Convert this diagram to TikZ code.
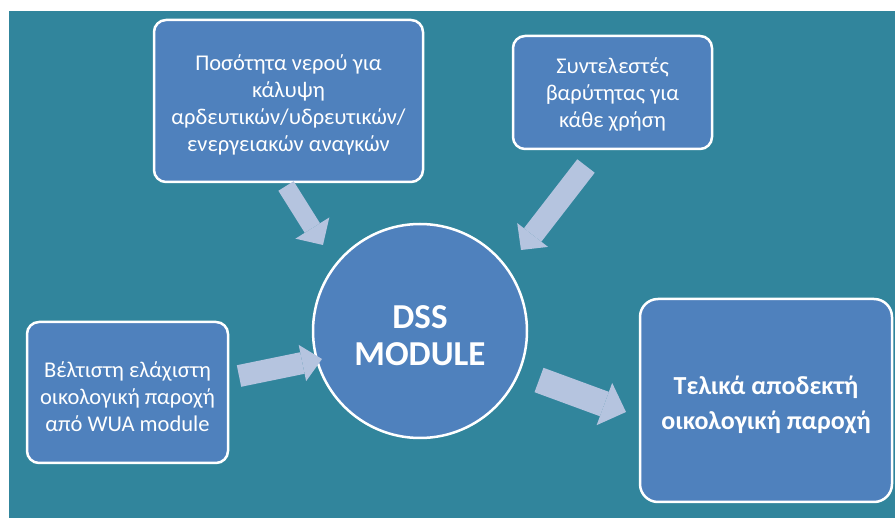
\documentclass[tikz,border=0pt]{standalone}
\usepackage{fontspec}
\setmainfont{Carlito}
\usetikzlibrary{arrows.meta}
\definecolor{bgteal}{RGB}{49,133,156}
\definecolor{boxblue}{RGB}{79,129,189}
\definecolor{arrowblue}{RGB}{181,196,223}
\begin{document}
\begin{tikzpicture}[x=1pt,y=-1pt,
  box/.style={draw=white,line width=2.5pt,fill=boxblue,rounded corners=12pt,inner sep=0pt},
  boxtext/.style={text=white,align=center,inner sep=0pt,font=\fontsize{22.5}{27}\selectfont},
  bigtext/.style={text=white,align=center,inner sep=0pt,font=\bfseries\fontsize{#1}{35}\selectfont},
  blockarrow/.style n args={3}{draw=arrowblue,line width=#1,
    -{Triangle[width=#2,length=#3,line width=0pt]}},
]
\useasboundingbox (0,0) rectangle (895,518);
\fill[white] (0,0) rectangle (895,518);
\fill[bgteal] (9,11) rectangle (895,518);

\node[box,minimum width=269pt,minimum height=162pt] (water) at (288.5,101) {};
\node[boxtext] (waterT) at ([yshift=-4pt]water.center)
  {Ποσότητα νερού για\\κάλυψη\\αρδευτικών/υδρευτικών/\\ενεργειακών αναγκών};
\node[box,minimum width=199pt,minimum height=113pt] (weights) at (612.5,92.5) {};
\node[boxtext] (weightsT) at ([yshift=-2pt]weights.center)
  {Συντελεστές\\βαρύτητας για\\κάθε χρήση};
\node[box,minimum width=201pt,minimum height=141pt] (optimal) at (127.5,392.5) {};
\node[boxtext] (optimalT) at ([yshift=-4pt]optimal.center)
  {Βέλτιστη ελάχιστη\\οικολογική παροχή\\από WUA module};
\node[box,rounded corners=18pt,minimum width=252pt,minimum height=203pt] (final) at (766,400.5) {};
\node[bigtext=26] (finalT) at ([yshift=-4pt]final.center)
  {Τελικά αποδεκτή\\οικολογική παροχή};
\node[circle,draw=white,line width=2.5pt,fill=boxblue,minimum size=214pt,
  inner sep=0pt] (dss) at (420,331) {};
\node[text=white,align=center,inner sep=0pt,
  font=\bfseries\fontsize{35}{37}\selectfont] (dssT) at ([yshift=-5pt]dss.center) {DSS\\MODULE};

\coordinate (a1s) at (286,186); \coordinate (a1e) at (323,245);
\coordinate (a2s) at (586,166); \coordinate (a2e) at (521,250);
\coordinate (a3s) at (239,376); \coordinate (a3e) at (322,359);
\coordinate (a4s) at (539,380); \coordinate (a4e) at (626,412);

\draw[blockarrow={18pt}{40pt}{20pt}] (a1s) -- (a1e);
\draw[blockarrow={22pt}{39pt}{19pt}] (a2s) -- (a2e);
\draw[blockarrow={22pt}{37pt}{20pt}] (a3s) -- (a3e);
\draw[blockarrow={26pt}{45pt}{23pt}] (a4s) -- (a4e);
\end{tikzpicture}
\end{document}
